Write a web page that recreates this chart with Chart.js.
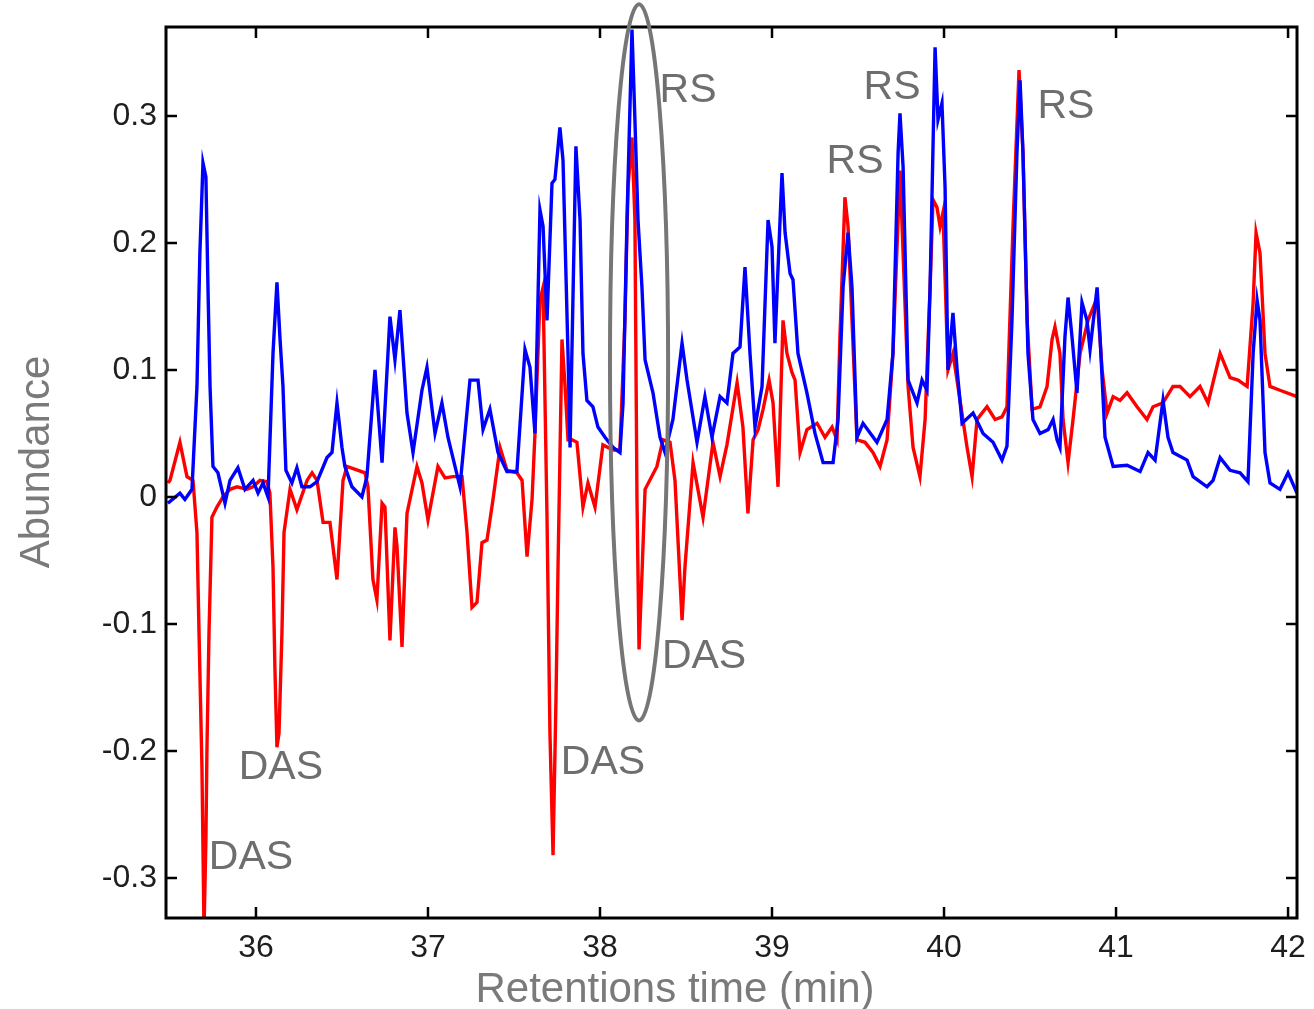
<!DOCTYPE html>
<html><head><meta charset="utf-8">
<script src="https://cdn.jsdelivr.net/npm/chart.js@4.4.1/dist/chart.umd.min.js"></script>
<style>html,body{margin:0;padding:0;background:#fff;overflow:hidden}canvas{display:block}</style>
</head><body>
<canvas id="c" width="1314" height="1009"></canvas>
<script>
const xTicks = [36, 37, 38, 39, 40, 41, 42];
const yTicks = [-0.3, -0.2, -0.1, 0, 0.1, 0.2, 0.3];
const xRange = [35.477, 42.052];
const yRange = [-0.3315, 0.37];
const xTitle = 'Retentions time (min)';
const yTitle = 'Abundance';

// [retention time (min), abundance]
const blueTrace = [
[35.488,-0.005],[35.558,0.003],[35.587,-0.002],[35.628,0.006],[35.657,0.087],[35.674,0.192],[35.692,0.263],[35.709,0.252],[35.721,0.165],[35.733,0.087],
[35.750,0.024],[35.779,0.019],[35.820,-0.005],[35.849,0.013],[35.895,0.023],[35.936,0.006],[35.983,0.013],[36.012,0.003],[36.041,0.011],[36.070,0.000],
[36.099,0.113],[36.122,0.169],[36.140,0.124],[36.157,0.087],[36.174,0.021],[36.209,0.011],[36.238,0.023],[36.267,0.008],[36.314,0.008],[36.355,0.012],
[36.413,0.031],[36.442,0.035],[36.471,0.074],[36.500,0.039],[36.517,0.024],[36.558,0.008],[36.616,0.000],[36.645,0.016],[36.692,0.100],[36.733,0.027],
[36.779,0.142],[36.808,0.108],[36.837,0.147],[36.878,0.066],[36.913,0.035],[36.965,0.084],[36.994,0.102],[37.041,0.050],[37.081,0.074],[37.116,0.047],
[37.186,0.008],[37.244,0.092],[37.291,0.092],[37.320,0.053],[37.360,0.069],[37.407,0.035],[37.459,0.020],[37.517,0.020],[37.564,0.116],[37.593,0.102],
[37.622,0.050],[37.651,0.226],[37.669,0.213],[37.692,0.139],[37.721,0.247],[37.738,0.250],[37.767,0.291],[37.785,0.265],[37.814,0.113],[37.826,0.039],
[37.860,0.276],[37.884,0.218],[37.901,0.113],[37.924,0.076],[37.959,0.071],[37.988,0.055],[38.029,0.047],[38.076,0.039],[38.116,0.035],[38.134,0.074],
[38.157,0.218],[38.186,0.368],[38.203,0.297],[38.221,0.218],[38.244,0.165],[38.262,0.108],[38.308,0.082],[38.349,0.047],[38.378,0.035],[38.424,0.061],
[38.477,0.121],[38.506,0.092],[38.564,0.043],[38.610,0.079],[38.651,0.047],[38.698,0.079],[38.738,0.074],[38.773,0.113],[38.814,0.118],[38.843,0.181],
[38.872,0.113],[38.901,0.055],[38.942,0.087],[38.977,0.218],[39.000,0.197],[39.017,0.121],[39.058,0.255],[39.076,0.208],[39.105,0.176],[39.122,0.171],
[39.151,0.113],[39.203,0.082],[39.250,0.050],[39.297,0.027],[39.355,0.027],[39.384,0.061],[39.413,0.165],[39.442,0.208],[39.465,0.165],[39.494,0.047],
[39.529,0.058],[39.610,0.043],[39.669,0.061],[39.703,0.113],[39.733,0.271],[39.744,0.302],[39.762,0.260],[39.791,0.092],[39.843,0.074],[39.872,0.092],
[39.901,0.084],[39.919,0.165],[39.948,0.354],[39.965,0.297],[39.988,0.310],[40.006,0.244],[40.023,0.100],[40.052,0.145],[40.076,0.100],[40.105,0.058],
[40.169,0.066],[40.227,0.050],[40.285,0.043],[40.337,0.029],[40.366,0.040],[40.395,0.139],[40.424,0.271],[40.442,0.328],[40.459,0.271],[40.488,0.113],
[40.517,0.061],[40.558,0.050],[40.605,0.053],[40.634,0.061],[40.657,0.045],[40.674,0.039],[40.703,0.126],[40.721,0.157],[40.744,0.126],[40.773,0.082],
[40.802,0.153],[40.831,0.139],[40.849,0.116],[40.890,0.165],[40.907,0.126],[40.936,0.047],[40.983,0.024],[41.064,0.025],[41.140,0.020],[41.186,0.035],
[41.227,0.029],[41.273,0.076],[41.302,0.047],[41.331,0.035],[41.413,0.029],[41.448,0.016],[41.529,0.008],[41.564,0.013],[41.605,0.031],[41.663,0.021],
[41.721,0.019],[41.767,0.012],[41.797,0.113],[41.820,0.155],[41.837,0.139],[41.866,0.035],[41.895,0.011],[41.953,0.006],[42.000,0.019],[42.052,0.003]
];

const redTrace = [
[35.488,0.011],[35.500,0.013],[35.558,0.043],[35.599,0.016],[35.634,0.013],[35.657,-0.028],[35.669,-0.107],[35.686,-0.213],[35.698,-0.341],[35.709,-0.270],
[35.715,-0.199],[35.727,-0.107],[35.744,-0.016],[35.773,-0.008],[35.808,0.000],[35.849,0.006],[35.890,0.008],[35.948,0.006],[35.983,0.008],[36.023,0.013],
[36.064,0.012],[36.081,0.003],[36.099,-0.055],[36.110,-0.134],[36.122,-0.197],[36.134,-0.186],[36.151,-0.107],[36.163,-0.028],[36.198,0.006],[36.238,-0.010],
[36.297,0.013],[36.326,0.019],[36.355,0.013],[36.390,-0.020],[36.430,-0.020],[36.471,-0.065],[36.506,0.013],[36.529,0.024],[36.634,0.019],[36.651,0.008],
[36.680,-0.065],[36.703,-0.081],[36.733,-0.005],[36.750,-0.008],[36.779,-0.113],[36.808,-0.024],[36.820,-0.039],[36.849,-0.118],[36.878,-0.013],[36.936,0.024],
[36.965,0.011],[37.000,-0.018],[37.058,0.024],[37.099,0.015],[37.145,0.016],[37.198,0.016],[37.227,-0.028],[37.256,-0.087],[37.285,-0.083],[37.314,-0.036],
[37.343,-0.034],[37.378,-0.002],[37.419,0.039],[37.459,0.021],[37.517,0.019],[37.547,0.013],[37.576,-0.047],[37.605,-0.002],[37.622,0.050],[37.651,0.155],
[37.669,0.165],[37.692,-0.016],[37.709,-0.186],[37.727,-0.282],[37.744,-0.160],[37.756,-0.055],[37.779,0.124],[37.797,0.087],[37.814,0.045],[37.837,0.045],
[37.866,0.043],[37.901,-0.008],[37.930,0.011],[37.971,-0.008],[38.017,0.041],[38.076,0.037],[38.116,0.037],[38.145,0.139],[38.163,0.244],[38.186,0.283],
[38.203,0.218],[38.215,-0.002],[38.227,-0.120],[38.244,-0.061],[38.262,0.006],[38.331,0.024],[38.366,0.045],[38.407,0.043],[38.436,0.013],[38.465,-0.065],
[38.477,-0.097],[38.494,-0.055],[38.541,0.027],[38.599,-0.016],[38.657,0.043],[38.698,0.016],[38.738,0.041],[38.797,0.090],[38.831,0.055],[38.860,-0.013],
[38.890,0.045],[38.919,0.053],[38.948,0.069],[38.983,0.092],[39.006,0.074],[39.035,0.008],[39.064,0.139],[39.087,0.113],[39.116,0.098],[39.134,0.092],
[39.163,0.035],[39.203,0.053],[39.262,0.058],[39.308,0.047],[39.349,0.055],[39.378,0.045],[39.395,0.126],[39.424,0.236],[39.442,0.213],[39.465,0.139],
[39.494,0.045],[39.541,0.043],[39.587,0.035],[39.628,0.024],[39.669,0.045],[39.703,0.113],[39.744,0.257],[39.762,0.192],[39.791,0.087],[39.820,0.039],
[39.860,0.016],[39.890,0.061],[39.919,0.165],[39.936,0.234],[39.959,0.228],[39.977,0.213],[39.994,0.224],[40.023,0.100],[40.052,0.113],[40.081,0.087],
[40.134,0.039],[40.163,0.016],[40.192,0.061],[40.250,0.071],[40.297,0.061],[40.337,0.063],[40.366,0.071],[40.401,0.213],[40.436,0.336],[40.459,0.271],
[40.483,0.139],[40.512,0.069],[40.558,0.071],[40.599,0.087],[40.628,0.124],[40.645,0.134],[40.674,0.113],[40.692,0.061],[40.721,0.027],[40.750,0.061],
[40.791,0.113],[40.837,0.139],[40.890,0.157],[40.919,0.100],[40.948,0.066],[40.983,0.079],[41.023,0.076],[41.064,0.082],[41.122,0.071],[41.180,0.061],
[41.215,0.071],[41.273,0.074],[41.331,0.087],[41.372,0.087],[41.430,0.079],[41.488,0.087],[41.535,0.074],[41.605,0.113],[41.663,0.094],[41.709,0.092],
[41.762,0.087],[41.797,0.153],[41.814,0.208],[41.837,0.192],[41.866,0.113],[41.895,0.087],[41.953,0.084],[42.052,0.079]
];

const annotText  = ['RS', 'RS', 'RS', 'RS', 'DAS', 'DAS', 'DAS', 'DAS'];
const annotTime  = [38.512, 39.698, 39.483, 40.709, 38.605, 38.017, 36.145, 35.971];
const annotAbund = [0.320, 0.322, 0.264, 0.307, -0.126, -0.209, -0.213, -0.284];
const ellipseCenter = [38.227, 0.106];
const ellipseHalf = [0.169, 0.282];

const FONT = '"Liberation Sans", Arial, Helvetica, sans-serif';

const decor = {
  id: 'decor',
  afterDatasetsDraw(chart) {
    const ctx = chart.ctx, a = chart.chartArea, x = chart.scales.x, y = chart.scales.y;
    ctx.save();
    ctx.strokeStyle = '#000';
    ctx.lineWidth = 3;
    ctx.strokeRect(a.left, a.top, a.right - a.left, a.bottom - a.top);
    const tl = 11;
    ctx.lineWidth = 2.5;
    ctx.beginPath();
    xTicks.forEach(v => {
      const p = x.getPixelForValue(v);
      ctx.moveTo(p, a.bottom); ctx.lineTo(p, a.bottom - tl);
      ctx.moveTo(p, a.top); ctx.lineTo(p, a.top + tl);
    });
    yTicks.forEach(v => {
      const p = y.getPixelForValue(v);
      ctx.moveTo(a.left, p); ctx.lineTo(a.left + tl, p);
      ctx.moveTo(a.right, p); ctx.lineTo(a.right - tl, p);
    });
    ctx.stroke();

    const cx = x.getPixelForValue(ellipseCenter[0]);
    const cy = y.getPixelForValue(ellipseCenter[1]);
    const rx = Math.abs(x.getPixelForValue(ellipseCenter[0] + ellipseHalf[0]) - cx);
    const ry = Math.abs(y.getPixelForValue(ellipseCenter[1] + ellipseHalf[1]) - cy);
    ctx.strokeStyle = '#767676';
    ctx.lineWidth = 4;
    ctx.beginPath();
    ctx.ellipse(cx, cy, rx, ry, 0, 0, Math.PI * 2);
    ctx.stroke();

    ctx.fillStyle = '#6e6e6e';
    ctx.font = '41px ' + FONT;
    ctx.textAlign = 'center';
    ctx.textBaseline = 'middle';
    annotText.forEach((t, i) => {
      ctx.fillText(t, x.getPixelForValue(annotTime[i]), y.getPixelForValue(annotAbund[i]));
    });

    ctx.fillStyle = '#7a7a7a';
    ctx.font = '42px ' + FONT;
    ctx.fillText(xTitle, 675, 990);
    ctx.translate(37, 462);
    ctx.rotate(-Math.PI / 2);
    ctx.fillText(yTitle, 0, 0);
    ctx.restore();
  }
};

const fmt = v => String(Math.round(v * 10) / 10);

new Chart(document.getElementById('c'), {
  type: 'line',
  data: {
    datasets: [
      { label: 'blue', data: blueTrace.map(p => ({x: p[0], y: p[1]})), borderColor: '#0000ff', borderWidth: 3.4, pointRadius: 0, tension: 0, fill: false, order: 1 },
      { label: 'red', data: redTrace.map(p => ({x: p[0], y: p[1]})), borderColor: '#ff0000', borderWidth: 3.4, pointRadius: 0, tension: 0, fill: false, order: 2 }
    ]
  },
  options: {
    responsive: false,
    animation: false,
    events: [],
    layout: { padding: { top: 27, right: 17, left: 0, bottom: 0 } },
    plugins: { legend: { display: false }, tooltip: { enabled: false } },
    scales: {
      x: {
        type: 'linear', min: xRange[0], max: xRange[1],
        afterBuildTicks: s => { s.ticks = xTicks.map(v => ({value: v})); },
        afterFit: s => { s.height = 91; },
        grid: { display: false }, border: { display: false },
        ticks: { padding: 3, color: '#1e1e1e', font: { family: FONT, size: 32 }, callback: v => fmt(v), maxRotation: 0, autoSkip: false }
      },
      y: {
        type: 'linear', min: yRange[0], max: yRange[1],
        afterBuildTicks: s => { s.ticks = yTicks.map(v => ({value: v})); },
        afterFit: s => { s.width = 166; },
        grid: { display: false }, border: { display: false },
        ticks: { padding: 1, color: '#1e1e1e', font: { family: FONT, size: 32 }, callback: v => fmt(v), autoSkip: false }
      }
    }
  },
  plugins: [decor]
});
</script>
</body></html>
